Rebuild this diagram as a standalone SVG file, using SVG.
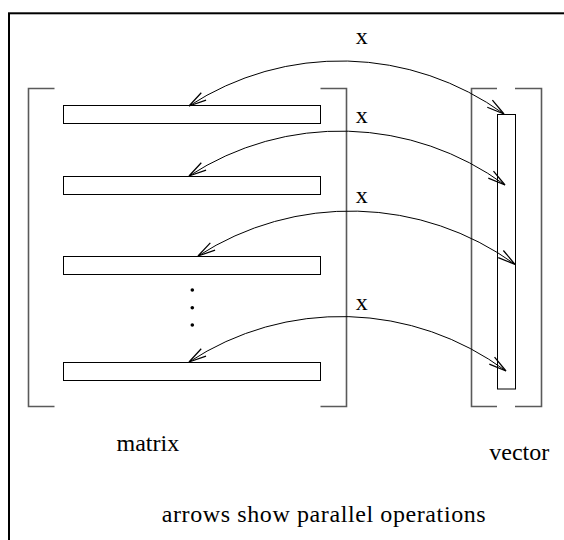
<svg xmlns="http://www.w3.org/2000/svg" width="564" height="540" viewBox="0 0 564 540">
<defs>
<style>
.br{fill:none;stroke:#5a5a5a;stroke-width:1.6}
.row{fill:#fff;stroke:#000;stroke-width:1}
.arc{fill:none;stroke:#000;stroke-width:1;marker-start:url(#ah);marker-end:url(#ah)}
.t{font-family:'Liberation Serif','DejaVu Serif',serif;font-size:24px;fill:#000}
</style>
<marker id="ah" markerUnits="userSpaceOnUse" markerWidth="20" markerHeight="12" refX="14" refY="4" orient="auto-start-reverse" viewBox="0 0 16 8" overflow="visible">
<path d="M0,0.5 L14,4 L0,7.5" fill="none" stroke="#000" stroke-width="1"/>
</marker>
</defs>
<rect x="9" y="13.3" width="600" height="600" fill="#fff" stroke="#000" stroke-width="2"/>
<g id="matrix">
<path class="br" d="M54.5,88.5 H28.5 V406.5 H54.5"/>
<path class="br" d="M320.5,88.5 H346.5 V406.5 H320.5"/>
<rect id="row1" class="row" x="63.5" y="105.5" width="257" height="18"/>
<rect id="row2" class="row" x="63.5" y="176.5" width="257" height="18"/>
<rect id="row3" class="row" x="63.5" y="256.5" width="257" height="18"/>
<rect id="row4" class="row" x="63.5" y="362.5" width="257" height="18"/>
<g id="dots" fill="#000">
<circle cx="192.3" cy="290" r="1.8"/>
<circle cx="192.3" cy="307.7" r="1.8"/>
<circle cx="192.3" cy="325" r="1.8"/>
</g>
<text class="t" font-family="Liberation Serif, serif" x="116.5" y="450.7">matrix</text>
</g>
<g id="vector">
<path class="br" d="M497,88.5 H471.5 V406.5 H497"/>
<path class="br" d="M515,88.5 H541.5 V406.5 H515"/>
<rect class="row" x="497.5" y="114.5" width="18" height="274.5"/>
<text class="t" font-family="Liberation Serif, serif" x="489.3" y="460">vector</text>
</g>
<g id="connectors">
<path class="arc" d="M189,106 A278,278 0 0 1 504,114"/>
<path class="arc" d="M189,176 A278,278 0 0 1 505,185"/>
<path class="arc" d="M198,256 A281,281 0 0 1 515,264.3"/>
<path class="arc" d="M189,362 A277,277 0 0 1 506,371"/>
</g>
<g id="labels" text-anchor="middle">
<text class="t" font-family="Liberation Serif, serif" x="361.7" y="44">x</text>
<text class="t" font-family="Liberation Serif, serif" x="361.7" y="123.3">x</text>
<text class="t" font-family="Liberation Serif, serif" x="361.7" y="202.7">x</text>
<text class="t" font-family="Liberation Serif, serif" x="361.7" y="310">x</text>
</g>
<text id="caption" class="t" font-family="Liberation Serif, serif" x="161.7" y="521.7" textLength="324" lengthAdjust="spacing">arrows show parallel operations</text>
</svg>
